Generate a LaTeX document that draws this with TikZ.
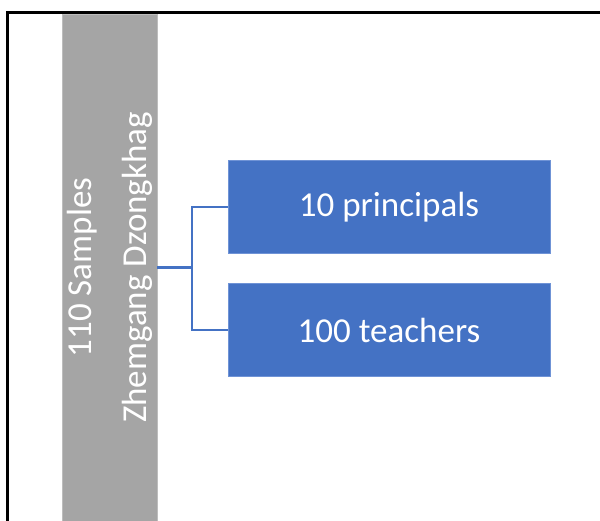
\documentclass[tikz,border=0pt]{standalone}
\usepackage{fontspec}
\setmainfont{Carlito}
\usepackage{tikz}
\usetikzlibrary{positioning}
\definecolor{boxblue}{HTML}{4472C4}
\definecolor{edgeblue}{HTML}{6F93D6}
\definecolor{bargray}{HTML}{A5A5A5}
\definecolor{edgegray}{HTML}{BDBDBD}
\tikzset{bar/.style={rotate=90,fill=bargray,draw=edgegray,line width=0.6pt,text=white,align=center,minimum width=380.25pt,minimum height=71.25pt,inner sep=0pt,font=\fontsize{26.25}{41.25}\selectfont},
         grp/.style={rectangle,fill=boxblue,draw=edgeblue,line width=0.6pt,text=white,minimum width=241.5pt,minimum height=69.75pt,inner sep=0pt,font=\fontsize{26.25}{31}\selectfont},
         link/.style={draw=boxblue,line width=1.6pt}}

\begin{document}
\begin{tikzpicture}[x=0.75pt,y=-0.75pt]
        \useasboundingbox (0,0) rectangle (600,521);
        \draw[line width=2.25pt] (7,521) -- (7,12) -- (600,12);

        \node[bar] (samples) at (109.5,267.5) {110 Samples\\Zhemgang Dzongkhag};
        \node[grp] (p) at (389,207) {10 principals};
        \node[grp] (t) at (389,330) {100 teachers};

        \coordinate (fork) at (192,267.5);
        \draw [link] (samples.south) -- (fork);
        \draw [link] (fork) |- (p.west);
        \draw [link] (fork) |- (t.west);
    \end{tikzpicture}
\end{document}
